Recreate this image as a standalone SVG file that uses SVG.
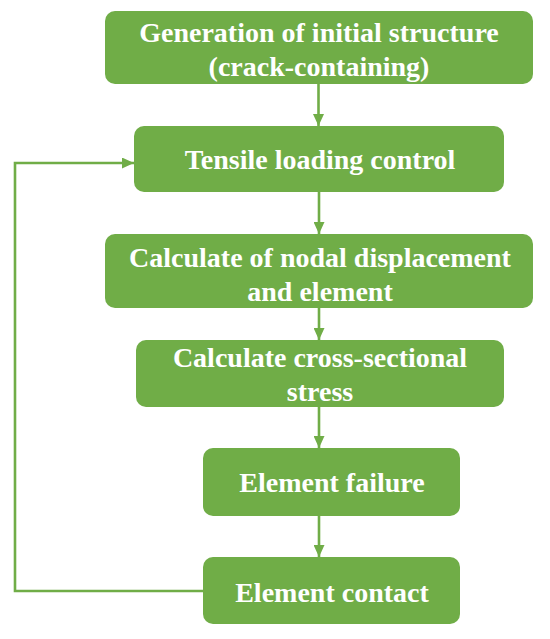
<svg xmlns="http://www.w3.org/2000/svg" width="550" height="639" viewBox="0 0 550 639">
<style>
.box{fill:#70AD47;}
.t{font-family:"Liberation Serif","Times New Roman",serif;font-weight:bold;font-size:28px;fill:#FFFFFF;text-anchor:middle;}
.c{fill:none;stroke:#70AD47;stroke-width:2.6;}
</style>
<defs>
<marker id="ah" markerUnits="userSpaceOnUse" markerWidth="12" markerHeight="11" viewBox="0 0 12 11" refX="12" refY="5.5" orient="auto">
<path d="M0,0 L12,5.5 L0,11 z" fill="#70AD47"/>
</marker>
</defs>
<rect width="550" height="639" fill="#FFFFFF"/>
<g id="connectors">
<line class="c" x1="318.5" y1="84" x2="318.5" y2="126" marker-end="url(#ah)"/>
<line class="c" x1="319" y1="192" x2="319" y2="234" marker-end="url(#ah)"/>
<line class="c" x1="319" y1="308" x2="319" y2="340" marker-end="url(#ah)"/>
<line class="c" x1="319" y1="407" x2="319" y2="448" marker-end="url(#ah)"/>
<line class="c" x1="319" y1="516" x2="319" y2="557" marker-end="url(#ah)"/>
<polyline class="c" points="203,591 15,591 15,163 134,163" marker-end="url(#ah)"/>
</g>
<g id="n1">
<rect class="box" x="105" y="11" width="428" height="73" rx="10"/>
<text class="t" x="319" y="42">Generation of initial structure</text>
<text class="t" x="319" y="76">(crack-containing)</text>
</g>
<g id="n2">
<rect class="box" x="134" y="126" width="370" height="66" rx="10"/>
<text class="t" x="320" y="169">Tensile loading control</text>
</g>
<g id="n3">
<rect class="box" x="105" y="234" width="428" height="74" rx="10"/>
<text class="t" x="320" y="267">Calculate of nodal displacement</text>
<text class="t" x="320" y="301">and element</text>
</g>
<g id="n4">
<rect class="box" x="136" y="340" width="368" height="67" rx="10"/>
<text class="t" x="320" y="367">Calculate cross-sectional</text>
<text class="t" x="320" y="401">stress</text>
</g>
<g id="n5">
<rect class="box" x="203" y="448" width="257" height="68" rx="10"/>
<text class="t" x="332" y="492">Element failure</text>
</g>
<g id="n6">
<rect class="box" x="203" y="557" width="257" height="67" rx="10"/>
<text class="t" x="332" y="602">Element contact</text>
</g>
</svg>
